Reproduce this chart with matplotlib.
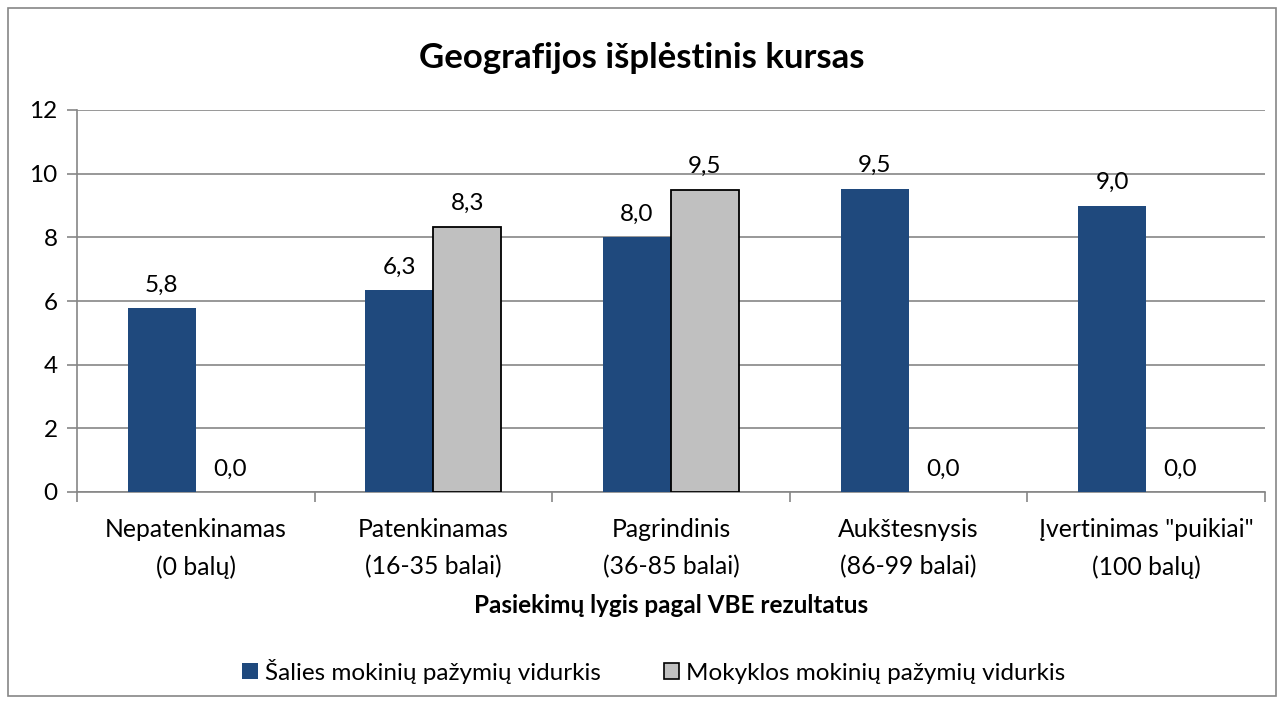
#!/usr/bin/env python3

import numpy as np
import matplotlib
matplotlib.use('Agg')
import matplotlib.pyplot as plt
from matplotlib.patches import Rectangle, Patch

categories = ['Nepatenkinamas\n(0 balų)', 'Patenkinamas\n(16-35 balai)', 'Pagrindinis\n(36-85 balai)',
              'Aukštesnysis\n(86-99 balai)', 'Įvertinimas "puikiai"\n(100 balų)']
country_avg = [5.77, 6.33, 8.0, 9.53, 9.0]
school_avg = [0.0, 8.33, 9.5, 0.0, 0.0]
series_names = ['Šalies mokinių pažymių vidurkis', 'Mokyklos mokinių pažymių vidurkis']

plt.rcParams['font.family'] = ['Lato', 'DejaVu Sans']

BLUE = '#1F497D'
GREY = '#C0C0C0'
LINE = '#868686'

fig = plt.figure(figsize=(12.84, 7.04), dpi=100)
fig.patches.append(Rectangle((0.006, 0.012), 0.988, 0.976, transform=fig.transFigure,
                             fill=False, edgecolor=LINE, linewidth=1.2))

ax = fig.add_axes([77 / 1284, 1 - 492 / 704, (1265 - 77) / 1284, (492 - 110) / 704])

x = np.arange(len(categories))
w = 0.286
ax.bar(x - w / 2, country_avg, w, color=BLUE, zorder=3)
# zero-height bars get no outline, like in the original
edge_w = [1.3 if v > 0 else 0 for v in school_avg]
ax.bar(x + w / 2, school_avg, w, color=GREY, edgecolor='black', linewidth=edge_w, zorder=3)

for xi, v in zip(x, country_avg):
    ax.annotate('{:.1f}'.format(v).replace('.', ','), (xi - w / 2, v), xytext=(0, 9),
                textcoords='offset points', ha='center', va='bottom', fontsize=17.5)
for xi, v in zip(x, school_avg):
    ax.annotate('{:.1f}'.format(v).replace('.', ','), (xi + w / 2, v), xytext=(0, 9),
                textcoords='offset points', ha='center', va='bottom', fontsize=17.5)

ax.set_xlim(-0.5, len(categories) - 0.5)
ax.set_ylim(0, 12)
ax.set_yticks(range(0, 13, 2))
ax.grid(axis='y', color=LINE, linewidth=1.2, zorder=0)
for s in ['top', 'right']:
    ax.spines[s].set_visible(False)
for s in ['left', 'bottom']:
    ax.spines[s].set_color(LINE)
    ax.spines[s].set_linewidth(1.2)

ax.set_xticks(x)
ax.set_xticklabels(categories, fontsize=17.8, linespacing=1.7)
ax.tick_params(axis='x', length=0, pad=19)
ax.set_xticks(np.arange(-0.5, len(categories)), minor=True)
ax.tick_params(axis='x', which='minor', length=7, color=LINE, width=1.2)
ax.tick_params(axis='y', length=7, color=LINE, width=1.2, labelsize=17.5, pad=7)

ax.set_xlabel('Pasiekimų lygis pagal VBE rezultatus', fontsize=17.5, fontweight='bold', labelpad=11)
fig.suptitle('Geografijos išplėstinis kursas', fontsize=25, fontweight='bold', y=1 - 58 / 704, va='center')

handles = [Patch(facecolor=BLUE, edgecolor='none'),
           Patch(facecolor=GREY, edgecolor='black', linewidth=1.2)]
fig.legend(handles, series_names, loc='center', bbox_to_anchor=(654 / 1284, 1 - 671 / 704), ncol=2,
           frameon=False, fontsize=17.5, handlelength=0.62, handleheight=0.62, handletextpad=0.3,
           columnspacing=2.6, borderpad=0, borderaxespad=0)

fig.savefig('out.png', dpi=100)
